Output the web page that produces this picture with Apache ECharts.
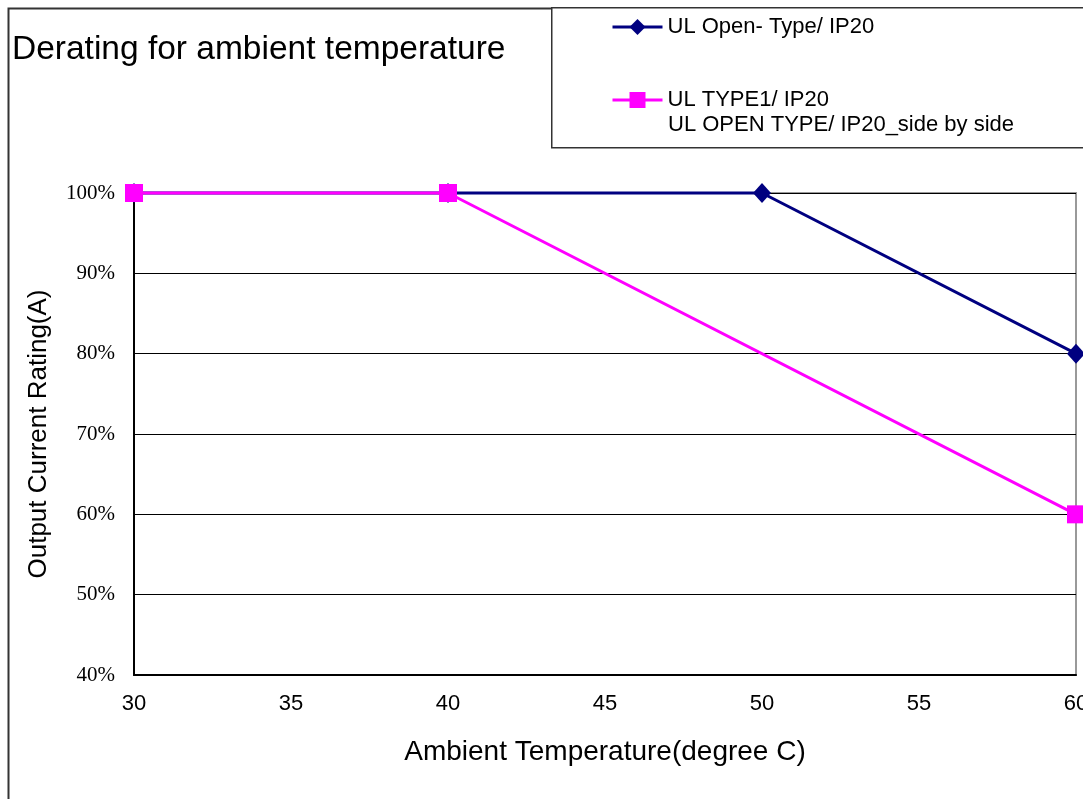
<!DOCTYPE html>
<html>
<head>
<meta charset="utf-8">
<script src="https://cdn.jsdelivr.net/npm/echarts@6/dist/echarts.min.js"></script>
<style>
html,body{margin:0;padding:0;background:#fff;}
#chart{width:1083px;height:799px;}
</style>
</head>
<body>
<div id="chart"></div>
<script>
// Data
const titleText = 'Derating for ambient temperature';
const xAxisName = 'Ambient Temperature(degree C)';
const yAxisName = 'Output Current Rating(A)';
const seriesNames = ['UL Open- Type/ IP20', 'UL TYPE1/ IP20'];
const legendSecondLine = 'UL OPEN TYPE/ IP20_side by side';
const openTemps = [30, 40, 50, 60];
const openValues = [100, 100, 100, 80];
const type1Temps = [30, 40, 60];
const type1Values = [100, 100, 60];
const xMin = 30, xMax = 60, xStep = 5;
const yMin = 40, yMax = 100, yStep = 10;

const chart = echarts.init(document.getElementById('chart'));
const sans = 'Liberation Sans, Arial, sans-serif';
const serif = 'Liberation Serif, Times New Roman, serif';

chart.setOption({
  animation: false,
  backgroundColor: '#fff',
  title: {
    text: titleText,
    left: 7,
    top: 28,
    textStyle: {fontFamily: sans, fontSize: 33.5, fontWeight: 'normal', color: '#000'}
  },
  legend: {
    orient: 'vertical',
    left: 611,
    top: 16,
    padding: 0,
    itemWidth: 50,
    itemHeight: 20,
    itemGap: 51,
    data: seriesNames,
    lineStyle: {width: 3},
    textStyle: {fontFamily: sans, fontSize: 22, color: '#000'}
  },
  graphic: [
    {type: 'rect', left: 6, top: 6, shape: {width: 1200, height: 1000}, style: {fill: 'none', stroke: '#333', lineWidth: 2}, z: 0},
    {type: 'rect', left: 551, top: 7, shape: {width: 600, height: 140}, style: {fill: '#fff', stroke: '#333', lineWidth: 1.5}, z: 1},
    {type: 'text', left: 668, top: 114, style: {text: legendSecondLine, fontFamily: sans, fontSize: 22, fill: '#000'}, z: 5}
  ],
  grid: {
    left: 134, right: 7, top: 193, bottom: 124,
    outerBoundsMode: 'none',
    show: true, borderColor: '#999', borderWidth: 2, backgroundColor: 'transparent'
  },
  xAxis: {
    type: 'value', min: xMin, max: xMax, interval: xStep,
    name: xAxisName, nameLocation: 'middle', nameGap: 63,
    nameTextStyle: {fontFamily: sans, fontSize: 28, color: '#000'},
    axisLine: {show: true, lineStyle: {color: '#000', width: 2}},
    axisTick: {show: false},
    splitLine: {show: false},
    axisLabel: {fontFamily: sans, fontSize: 22, color: '#000', margin: 18}
  },
  yAxis: {
    type: 'value', min: yMin, max: yMax, interval: yStep,
    name: yAxisName, nameLocation: 'middle', nameGap: 82,
    nameTextStyle: {fontFamily: sans, fontSize: 26, color: '#000'},
    axisLine: {show: true, lineStyle: {color: '#000', width: 2}},
    axisTick: {show: false},
    splitLine: {show: true, lineStyle: {color: '#000', width: 1}},
    axisLabel: {fontFamily: serif, fontSize: 21, color: '#000', margin: 19, formatter: '{value}%'}
  },
  series: [
    {
      name: seriesNames[0], type: 'line',
      data: openTemps.map((t, i) => [t, openValues[i]]),
      symbol: 'diamond', symbolSize: [18, 20],
      lineStyle: {color: '#000080', width: 3},
      itemStyle: {color: '#000080'},
      clip: false, z: 3
    },
    {
      name: seriesNames[1], type: 'line',
      data: type1Temps.map((t, i) => [t, type1Values[i]]),
      symbol: 'rect', symbolSize: 18,
      lineStyle: {color: '#FF00FF', width: 3},
      itemStyle: {color: '#FF00FF'},
      clip: false, z: 4
    }
  ]
});
</script>
</body>
</html>
